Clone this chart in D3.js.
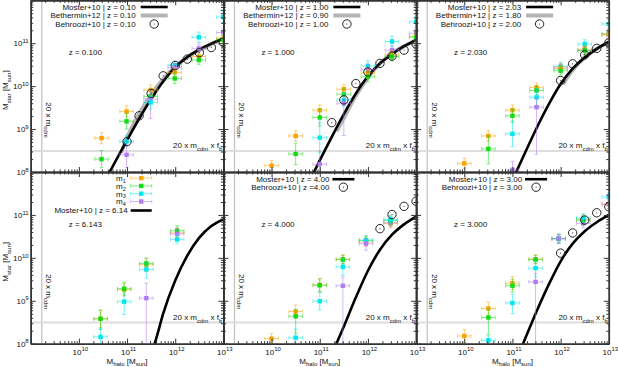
<!DOCTYPE html>
<html>
<head>
<meta charset="utf-8">
<script src="https://cdn.jsdelivr.net/npm/d3@7"></script>
<style>
  body { margin: 0; background: #fff; }
  svg { display: block; }
  text { font-family: "Liberation Sans", Arial, sans-serif; font-size: 8px; fill: #111; }
</style>
</head>
<body>
<svg id="chart" width="618" height="367"></svg>
<script>
// ---- data (log10 values) ----
const seriesNames = ["m_{1}", "m_{2}", "m_{3}", "m_{4}"]
const seriesColours = ["#ffa200", "#14dc14", "#00e6ee", "#b07cf0"]
const redshiftLabels = ["z = 0.100", "z = 1.000", "z = 2.030", "z = 6.143", "z = 4.000", "z = 3.000"]
const majorTicks = [1e9, 1e10, 1e11, 1e12, 1e13]
const yTickLabels = [1e8, 1e9, 1e10, 1e11]
const xTickLabels = [1e10, 1e11, 1e12, 1e13]
const mcdmLimit = 1.7e9      // 20 x m_cdm
const starLimit = 3.1e8      // 20 x m_cdm x f_b

const legendZ01 = ["Moster+10 | z = 0.10", "Bethermin+12 | z = 0.10", "Behroozi+10 | z = 0.10"]
const legendZ1 = ["Moster+10 | z = 1.00", "Bethermin+12 | z = 0.90", "Behroozi+10 | z = 1.00"]
const legendZ2 = ["Moster+10 | z = 2.03", "Bethermin+12 | z = 1.80", "Behroozi+10 | z = 2.00"]
const legendZ6 = ["Moster+10 | z = 6.14"]
const legendZ4 = ["Moster+10 | z = 4.00", "Behroozi+10 | z =4.00"]
const legendZ3 = ["Moster+10 | z = 3.00", "Behroozi+10 | z = 3.00"]

// Moster+10 curves [log Mhalo, log Mstar]
const mosterZ01 = [[10.5, 7.71], [10.75, 8.23], [11.0, 8.74], [11.25, 9.24], [11.5, 9.7], [11.75, 10.11],
  [12.0, 10.44], [12.25, 10.68], [12.5, 10.85], [12.75, 10.99], [13.0, 11.12]]
const mosterZ1 = [[10.75, 7.7], [11.0, 8.27], [11.25, 8.82], [11.5, 9.35], [11.75, 9.83], [12.0, 10.23],
  [12.25, 10.53], [12.5, 10.75], [12.75, 10.93], [13.0, 11.08]]
const mosterZ2 = [[11.0, 7.81], [11.25, 8.42], [11.5, 9.02], [11.75, 9.57], [12.0, 10.05], [12.25, 10.41],
  [12.5, 10.67], [12.75, 10.87], [13.0, 11.03]]
const mosterZ6 = [[11.5, 7.75], [11.6, 8.1], [11.75, 8.7], [12.0, 9.47], [12.25, 10.05], [12.5, 10.47],
  [12.75, 10.74], [13.0, 10.9]]
const mosterZ4 = [[11.25, 7.75], [11.5, 8.4], [11.75, 9.08], [12.0, 9.7], [12.25, 10.19], [12.5, 10.54],
  [12.75, 10.78], [13.0, 10.96]]
const mosterZ3 = [[11.0, 7.4], [11.25, 8.08], [11.5, 8.75], [11.75, 9.37], [12.0, 9.92], [12.25, 10.33],
  [12.5, 10.62], [12.75, 10.83], [13.0, 11.0]]

// Bethermin+12 curves
const betherminZ01 = [[10.88, 8.45], [11.0, 8.8], [11.25, 9.35], [11.5, 9.8], [11.75, 10.16], [12.0, 10.45],
  [12.25, 10.67], [12.5, 10.84], [12.75, 10.98], [13.0, 11.1]]
const betherminZ1 = [[11.35, 8.95], [11.5, 9.26], [11.75, 9.78], [12.0, 10.2], [12.25, 10.53], [12.5, 10.76],
  [12.75, 10.93], [13.0, 11.07]]
const betherminZ2 = [[12.05, 10.05], [12.25, 10.38], [12.5, 10.67], [12.75, 10.87], [13.0, 11.03]]

// Behroozi+10 points
const behrooziZ01 = [[11.0, 8.71], [11.25, 9.31], [11.5, 9.83], [11.75, 10.24], [12.0, 10.48], [12.25, 10.63],
  [12.5, 10.78], [12.75, 10.9], [13.0, 11.02]]
const behrooziZ1 = [[11.25, 9.15], [11.5, 9.68], [11.75, 10.06], [12.0, 10.33], [12.25, 10.53], [12.5, 10.7],
  [12.75, 10.84], [13.0, 10.98]]
const behrooziZ2 = [[12.0, 10.13], [12.25, 10.52], [12.5, 10.73], [12.75, 10.88], [13.0, 11.01]]
const behrooziZ4 = [[12.25, 10.68], [12.5, 11.01], [12.75, 11.2], [13.0, 11.32]]
const behrooziZ3 = [[12.0, 10.11], [12.25, 10.58], [12.5, 10.88], [12.75, 11.05], [13.0, 11.19]]

// simulation points [series, log Mhalo, log Mstar, err down, err up]
const pointsZ01 = [
  [1, 10.47, 8.79, 0.13, 0.13], [2, 10.47, 8.30, 0.2, 0.2],
  [1, 10.99, 9.41, 0.13, 0.13], [2, 10.99, 9.18, 0.18, 0.18], [3, 10.99, 8.71, 0.12, 0.15], [4, 10.99, 8.40, 0.3, 0.25],
  [1, 11.49, 9.91, 0.12, 0.12], [2, 11.49, 9.76, 0.15, 0.15], [4, 11.49, 9.70, 0.45, 0.2], [3, 11.49, 9.62, 0.15, 0.15],
  [3, 11.99, 10.49, 0.1, 0.1], [4, 11.99, 10.43, 0.1, 0.1], [1, 11.99, 10.32, 0.12, 0.12], [2, 11.99, 10.18, 0.12, 0.15],
  [3, 12.49, 11.14, 0.12, 0.12], [4, 12.49, 10.88, 0.1, 0.1], [1, 12.49, 10.69, 0.1, 0.1], [2, 12.49, 10.61, 0.1, 0.1],
  [3, 13.0, 11.61, 0.12, 0.12], [4, 13.0, 11.25, 0.1, 0.1], [1, 13.0, 11.12, 0.1, 0.1], [2, 13.0, 11.08, 0.1, 0.1]
]
const pointsZ1 = [
  [1, 10.0, 8.15, 0.12, 0.12],
  [1, 10.5, 8.84, 0.12, 0.12], [2, 10.5, 8.42, 0.25, 0.25],
  [1, 11.0, 9.44, 0.15, 0.12], [2, 11.0, 9.27, 0.2, 0.2], [3, 11.0, 8.80, 0.35, 0.35], [4, 11.0, 8.18, 0.4, 0.3],
  [1, 11.5, 9.93, 0.1, 0.1], [2, 11.5, 9.81, 0.12, 0.12], [3, 11.5, 9.68, 0.15, 0.15], [4, 11.5, 9.60, 0.75, 0.12],
  [3, 12.0, 10.47, 0.15, 0.12], [4, 12.0, 10.39, 0.15, 0.12], [1, 12.0, 10.31, 0.12, 0.12], [2, 12.0, 10.22, 0.12, 0.12],
  [3, 12.5, 11.04, 0.12, 0.12], [4, 12.5, 10.84, 0.1, 0.1], [1, 12.5, 10.73, 0.1, 0.1], [2, 12.5, 10.69, 0.1, 0.1],
  [3, 13.0, 11.5, 0.12, 0.12], [4, 13.0, 11.23, 0.1, 0.1], [1, 13.0, 11.16, 0.1, 0.1], [2, 13.0, 11.14, 0.1, 0.1]
]
const pointsZ2 = [
  [1, 10.0, 8.20, 0.12, 0.12],
  [1, 10.5, 8.84, 0.12, 0.12], [2, 10.5, 8.54, 0.35, 0.3],
  [1, 11.0, 9.44, 0.12, 0.12], [2, 11.0, 9.31, 0.15, 0.15], [3, 11.0, 8.89, 0.3, 0.3], [4, 11.0, 8.05, 0.3, 0.2],
  [1, 11.5, 9.97, 0.1, 0.1], [2, 11.5, 9.90, 0.1, 0.1], [3, 11.5, 9.74, 0.2, 0.2], [4, 11.5, 9.51, 1.1, 0.2],
  [3, 12.0, 10.46, 0.1, 0.1], [4, 12.0, 10.42, 0.1, 0.1], [1, 12.0, 10.42, 0.1, 0.1], [2, 12.0, 10.36, 0.1, 0.1],
  [3, 12.5, 10.98, 0.1, 0.1], [1, 12.5, 10.86, 0.1, 0.1], [4, 12.5, 10.83, 0.1, 0.1], [2, 12.5, 10.83, 0.1, 0.1],
  [3, 13.0, 11.45, 0.1, 0.1], [2, 13.0, 11.22, 0.1, 0.1], [4, 13.0, 11.2, 0.1, 0.1], [1, 13.0, 11.2, 0.1, 0.1]
]
const pointsZ6 = [
  [1, 10.45, 8.58, 0.2, 0.2], [2, 10.45, 8.58, 0.25, 0.2], [3, 10.45, 8.16, 0.2, 0.2],
  [1, 10.94, 9.26, 0.15, 0.15], [2, 10.94, 9.28, 0.15, 0.15], [3, 10.94, 8.98, 0.3, 0.2],
  [1, 11.4, 9.84, 0.15, 0.15], [2, 11.4, 9.87, 0.15, 0.12], [3, 11.4, 9.73, 0.2, 0.15], [4, 11.4, 9.06, 1.2, 0.35],
  [1, 12.04, 10.58, 0.12, 0.12], [2, 12.04, 10.63, 0.12, 0.12], [4, 12.04, 10.56, 0.12, 0.12], [3, 12.04, 10.43, 0.1, 0.1]
]
const pointsZ4 = [
  [1, 10.0, 8.12, 0.12, 0.12],
  [1, 10.5, 8.75, 0.15, 0.15], [2, 10.5, 8.64, 0.4, 0.15], [3, 10.5, 8.14, 0.2, 0.2],
  [1, 11.0, 9.37, 0.15, 0.15], [2, 11.0, 9.36, 0.15, 0.15], [3, 11.0, 8.99, 0.2, 0.2],
  [1, 11.48, 9.97, 0.1, 0.1], [2, 11.48, 9.96, 0.1, 0.1], [3, 11.48, 9.79, 0.2, 0.2], [4, 11.48, 9.35, 1.5, 0.2],
  [1, 11.96, 10.37, 0.1, 0.1], [2, 11.96, 10.41, 0.1, 0.1], [3, 11.96, 10.41, 0.1, 0.1], [4, 11.96, 10.33, 0.15, 0.1],
  [1, 12.47, 10.8, 0.1, 0.1], [4, 12.47, 10.82, 0.1, 0.1], [2, 12.47, 10.87, 0.1, 0.1], [3, 12.47, 10.89, 0.1, 0.1]
]
const pointsZ3 = [
  [1, 10.0, 8.18, 0.15, 0.15],
  [1, 10.5, 8.82, 0.15, 0.15], [2, 10.5, 8.61, 0.4, 0.2], [3, 10.5, 8.08, 0.1, 0.1],
  [1, 11.0, 9.41, 0.15, 0.15], [2, 11.0, 9.35, 0.15, 0.15], [3, 11.0, 8.95, 0.25, 0.2],
  [1, 11.48, 9.97, 0.1, 0.1], [2, 11.48, 9.96, 0.1, 0.1], [3, 11.48, 9.76, 0.2, 0.15], [4, 11.48, 9.44, 1.5, 0.2],
  [1, 11.96, 10.45, 0.1, 0.1], [2, 11.96, 10.44, 0.1, 0.1], [3, 11.96, 10.45, 0.1, 0.1], [4, 11.96, 10.45, 0.12, 0.1],
  [1, 12.47, 10.9, 0.1, 0.1], [4, 12.47, 10.8, 0.1, 0.1], [2, 12.47, 10.88, 0.1, 0.1], [3, 12.47, 10.93, 0.1, 0.1],
  [1, 13.0, 11.25, 0.1, 0.1], [4, 13.0, 11.25, 0.1, 0.1], [3, 13.0, 11.42, 0.1, 0.1]
]

// ---- layout ----
const plotLeft = 30.7
const plotTop = 0.3
const panelW = 192.7
const panelH = 171.7
const xErr = 0.14

const panels = [
  { col: 0, row: 0, points: pointsZ01, moster: mosterZ01, bethermin: betherminZ01, behroozi: behrooziZ01, legend: legendZ01 },
  { col: 1, row: 0, points: pointsZ1, moster: mosterZ1, bethermin: betherminZ1, behroozi: behrooziZ1, legend: legendZ1 },
  { col: 2, row: 0, points: pointsZ2, moster: mosterZ2, bethermin: betherminZ2, behroozi: behrooziZ2, legend: legendZ2 },
  { col: 0, row: 1, points: pointsZ6, moster: mosterZ6, bethermin: null, behroozi: null, legend: legendZ6 },
  { col: 1, row: 1, points: pointsZ4, moster: mosterZ4, bethermin: null, behroozi: behrooziZ4, legend: legendZ4 },
  { col: 2, row: 1, points: pointsZ3, moster: mosterZ3, bethermin: null, behroozi: behrooziZ3, legend: legendZ3 }
]

const svg = d3.select("#chart")
const minorTicks = d3.range(9, 13).flatMap(k => d3.range(2, 10).map(j => j * 10 ** k))
const minorTicksY = d3.range(8, 12).flatMap(k => d3.range(2, 10).map(j => j * 10 ** k))

// writes "a_{b}" / "a^{b}" strings as tspans
function rich(textSel, str, small = 6, subOff = 2.5) {
  let shift = 0
  str.split(/([_^]\{[^}]*\})/).filter(s => s).forEach(p => {
    if (p[0] === "_" || p[0] === "^") {
      const off = p[0] === "_" ? subOff : -3.3
      textSel.append("tspan").attr("dy", off - shift).style("font-size", small + "px").text(p.slice(2, -1))
      shift = off
    } else {
      textSel.append("tspan").attr("dy", -shift).text(p)
      shift = 0
    }
  })
}

function drawKey(g, textRight, s0, s1, base, label, kind) {
  rich(g.append("text").attr("x", textRight).attr("y", base).attr("text-anchor", "end"), label, 5.5, 1.8)
  const cy = base - 2.8
  const mid = (s0 + s1) / 2
  if (kind === "moster") {
    g.append("line").attr("x1", s0).attr("x2", s1).attr("y1", cy).attr("y2", cy)
      .style("stroke", "#000").style("stroke-width", 2.6)
  } else if (kind === "bethermin") {
    g.append("line").attr("x1", s0).attr("x2", s1).attr("y1", cy).attr("y2", cy)
      .style("stroke", "#b4b4b4").style("stroke-width", 4)
  } else if (kind === "behroozi") {
    g.append("circle").attr("cx", mid).attr("cy", cy).attr("r", 4.2)
      .style("fill", "none").style("stroke", "#222").style("stroke-width", 1)
    g.append("circle").attr("cx", mid).attr("cy", cy).attr("r", 0.6).style("fill", "#444")
  } else {
    const c = seriesColours[+kind.slice(1)]
    const bars = g.append("g").style("stroke", c).style("stroke-width", 1).style("opacity", 0.55)
    bars.append("line").attr("x1", s0).attr("x2", s1).attr("y1", cy).attr("y2", cy)
    bars.append("line").attr("x1", s0).attr("x2", s0).attr("y1", cy - 1.8).attr("y2", cy + 1.8)
    bars.append("line").attr("x1", s1).attr("x2", s1).attr("y1", cy - 1.8).attr("y2", cy + 1.8)
    g.append("rect").attr("x", mid - 2.2).attr("y", cy - 2.2).attr("width", 4.4).attr("height", 4.4)
      .style("fill", c)
  }
}

panels.forEach((p, i) => {
  const x0 = plotLeft + p.col * panelW
  const y0 = plotTop + p.row * panelH
  const x = d3.scaleLog().domain([1e9, 1e13]).range([x0, x0 + panelW])
  const y = d3.scaleLog().domain([1e8, 1e12]).range([y0 + panelH, y0])
  const px = v => x(10 ** v)
  const py = v => y(10 ** v)

  const g = svg.append("g").attr("class", "panel")
  svg.append("clipPath").attr("id", "clip" + i)
    .append("rect").attr("x", x0).attr("y", y0).attr("width", panelW).attr("height", panelH)
  const plot = g.append("g").attr("clip-path", `url(#clip${i})`)

  // reference lines
  plot.append("line")
    .attr("x1", x(mcdmLimit)).attr("x2", x(mcdmLimit)).attr("y1", y0).attr("y2", y0 + panelH)
    .style("stroke", "#c4c4c4").style("stroke-width", 1.3)
  plot.append("line")
    .attr("x1", x0).attr("x2", x0 + panelW).attr("y1", y(starLimit)).attr("y2", y(starLimit))
    .style("stroke", "#dedede").style("stroke-width", 2)
  rich(plot.append("text")
    .attr("transform", `translate(${x(mcdmLimit) + 4.5},${y0 + 102}) rotate(90)`), "20 x m_{cdm}")
  rich(plot.append("text")
    .attr("x", x0 + panelW - 1).attr("y", y(starLimit) - 2.5)
    .attr("text-anchor", "end"), "20 x m_{cdm} x f_{b}")

  // model curves
  const line = d3.line().x(d => px(d[0])).y(d => py(d[1])).curve(d3.curveMonotoneX)
  if (p.bethermin) {
    plot.append("path").datum(p.bethermin).attr("d", line)
      .style("fill", "none").style("stroke", "#b4b4b4").style("stroke-width", 4)
  }
  plot.append("path").datum(p.moster).attr("d", line)
    .style("fill", "none").style("stroke", "#000").style("stroke-width", 2.6)

  // simulation points with error bars
  const pts = plot.append("g").selectAll("g.pt").data(p.points).join("g").attr("class", "pt")
  pts.each(function(d) {
    const s = d3.select(this)
    const c = seriesColours[d[0] - 1]
    const cx = px(d[1]), cy = py(d[2])
    const xa = px(d[1] - xErr), xb = px(d[1] + xErr)
    const ya = py(d[2] - d[3]), yb = py(d[2] + d[4])
    const bars = s.append("g").style("stroke", c).style("stroke-width", 1).style("opacity", 0.55)
    bars.append("line").attr("x1", xa).attr("x2", xb).attr("y1", cy).attr("y2", cy)
    bars.append("line").attr("x1", xa).attr("x2", xa).attr("y1", cy - 1.8).attr("y2", cy + 1.8)
    bars.append("line").attr("x1", xb).attr("x2", xb).attr("y1", cy - 1.8).attr("y2", cy + 1.8)
    bars.append("line").attr("x1", cx).attr("x2", cx).attr("y1", ya).attr("y2", yb)
    bars.append("line").attr("x1", cx - 1.8).attr("x2", cx + 1.8).attr("y1", ya).attr("y2", ya)
    bars.append("line").attr("x1", cx - 1.8).attr("x2", cx + 1.8).attr("y1", yb).attr("y2", yb)
    s.append("rect").attr("x", cx - 2.2).attr("y", cy - 2.2).attr("width", 4.4).attr("height", 4.4)
      .style("fill", c)
  })

  if (p.behroozi) {
    const circ = plot.append("g").selectAll("g").data(p.behroozi).join("g")
      .attr("transform", d => `translate(${px(d[0])},${py(d[1])})`)
    circ.append("circle").attr("r", 4.2).style("fill", "none").style("stroke", "#222").style("stroke-width", 1)
    circ.append("circle").attr("r", 0.6).style("fill", "#444")
  }

  // axes: inward ticks on all four sides
  const addAxis = (gen, tr, vals, size) => {
    const a = g.append("g").attr("transform", tr)
      .call(gen.tickValues(vals).tickSize(-size).tickSizeOuter(0).tickFormat(""))
    a.selectAll("line, path").style("stroke", "#333")
    a.select(".domain").style("stroke-width", 1.5)
    return a
  }
  const yMajor = majorTicks.map(v => v / 10)
  addAxis(d3.axisBottom(x), `translate(0,${y0 + panelH})`, majorTicks, 5)
  addAxis(d3.axisBottom(x), `translate(0,${y0 + panelH})`, minorTicks, 2.5)
  addAxis(d3.axisTop(x), `translate(0,${y0})`, majorTicks, 5)
  addAxis(d3.axisTop(x), `translate(0,${y0})`, minorTicks, 2.5)
  addAxis(d3.axisLeft(y), `translate(${x0},0)`, yMajor, 5)
  addAxis(d3.axisLeft(y), `translate(${x0},0)`, minorTicksY, 2.5)
  addAxis(d3.axisRight(y), `translate(${x0 + panelW},0)`, yMajor, 5)
  addAxis(d3.axisRight(y), `translate(${x0 + panelW},0)`, minorTicksY, 2.5)

  // tick labels
  const exp = v => Math.round(Math.log10(v))
  if (p.col === 0) {
    yTickLabels.forEach(v => {
      rich(g.append("text").attr("x", x0 - 2).attr("y", y(v) + 3).attr("text-anchor", "end"),
        `10^{${exp(v)}}`)
    })
    rich(g.append("text").attr("text-anchor", "middle")
      .attr("transform", `translate(8,${y0 + panelH / 2 + 4}) rotate(-90)`), "M_{star} [M_{sun}]")
  }
  if (p.row === 1) {
    xTickLabels.forEach(v => {
      rich(g.append("text").attr("x", x(v) + 1.5).attr("y", 354.5).attr("text-anchor", "middle"),
        `10^{${exp(v)}}`)
    })
    rich(g.append("text").attr("x", x0 + panelW / 2).attr("y", 363.8).attr("text-anchor", "middle"),
      "M_{halo} [M_{sun}]")
  }

  // redshift label
  g.append("text").attr("x", x0 + 38).attr("y", y0 + 55).text(redshiftLabels[i])

  // legend
  const leg = g.append("g")
  if (p.row === 0) {
    const kinds = ["moster", "bethermin", "behroozi"]
    p.legend.forEach((t, k) => drawKey(leg, x0 + 105, x0 + 110, x0 + 137, y0 + 9.5 + k * 8.5, t, kinds[k]))
  } else if (p.col === 0) {
    seriesNames.forEach((t, k) => drawKey(leg, x0 + 95, x0 + 100, x0 + 121, y0 + 8.9 + k * 7.8, t, "s" + k))
    drawKey(leg, x0 + 97, x0 + 100, x0 + 121, y0 + 8.9 + 4 * 7.8 + 1.2, p.legend[0], "moster")
  } else {
    const kinds = ["moster", "behroozi"]
    p.legend.forEach((t, k) => drawKey(leg, x0 + 106, x0 + 109, x0 + 131, y0 + 10 + k * 8, t, kinds[k]))
  }
})
</script>
</body>
</html>
